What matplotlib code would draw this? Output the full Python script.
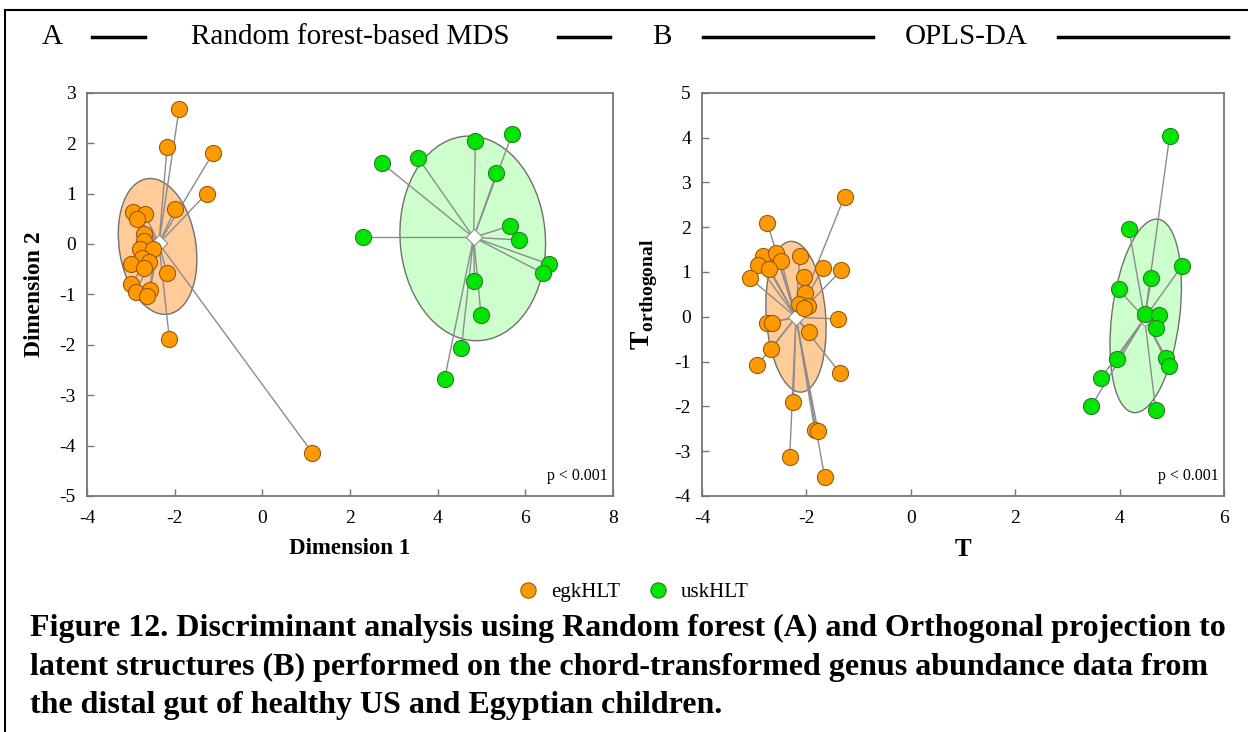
import numpy as np
import matplotlib.pyplot as plt
from matplotlib.patches import Ellipse
from matplotlib.lines import Line2D

plt.rcParams['font.family'] = ['Liberation Serif', 'DejaVu Serif']
plt.rcParams['mathtext.fontset'] = 'custom'
plt.rcParams['mathtext.bf'] = 'Liberation Serif:bold'
plt.rcParams['mathtext.rm'] = 'Liberation Serif'
plt.rcParams['axes.unicode_minus'] = False

# --- Random forest-based MDS scores ---
mds_egk_x = [-1.90, -2.17, -1.12, -1.27, -1.99, -2.94, -2.68, -2.87, -2.69, -2.71, -2.80, -2.50,
             -2.75, -2.58, -3.00, -2.70, -2.18, -2.99, -2.89, -2.56, -2.62, -2.12, 1.14]
mds_egk_y = [2.67, 1.93, 1.81, 1.00, 0.69, 0.64, 0.59, 0.49, 0.20, 0.05, -0.10, -0.10,
             -0.28, -0.35, -0.40, -0.48, -0.57, -0.79, -0.96, -0.91, -1.03, -1.89, -4.14]
mds_usk_x = [5.70, 4.86, 3.55, 2.73, 5.34, 2.29, 5.66, 5.85, 6.53, 6.40, 4.84, 4.99, 4.54, 4.16]
mds_usk_y = [2.18, 2.05, 1.71, 1.60, 1.40, 0.13, 0.36, 0.08, -0.40, -0.58, -0.73, -1.41, -2.07, -2.67]
mds_centroids = {'egkHLT': (-2.36, 0.01), 'uskHLT': (4.82, 0.13)}
# ellipse: centre x, centre y, width, height, angle
mds_ellipses = {'egkHLT': (-2.39, -0.05, 2.73, 1.74, -78),
                'uskHLT': (4.80, 0.11, 4.07, 3.31, -83)}

# --- OPLS-DA scores ---
opls_egk_x = [-1.27, -2.75, -2.83, -2.59, -2.48, -2.93, -2.72, -3.08, -2.13, -1.69, -1.33, -2.05,
              -2.02, -2.15, -1.97, -2.05, -1.39, -2.75, -2.66, -1.95, -2.67, -2.94, -1.36, -2.25,
              -1.84, -1.78, -2.32, -1.65]
opls_egk_y = [2.68, 2.10, 1.35, 1.43, 1.24, 1.16, 1.06, 0.86, 1.35, 1.08, 1.04, 0.89,
              0.54, 0.28, 0.25, 0.20, -0.05, -0.13, -0.13, -0.35, -0.71, -1.08, -1.25, -1.91,
              -2.53, -2.54, -3.14, -3.58]
opls_usk_x = [4.96, 4.18, 5.19, 4.61, 3.98, 4.48, 4.75, 4.70, 3.95, 4.89, 4.94, 3.65, 3.46, 4.69]
opls_usk_y = [4.04, 1.95, 1.13, 0.86, 0.61, 0.06, 0.04, -0.26, -0.95, -0.91, -1.10, -1.36, -1.99, -2.07]
opls_centroids = {'egkHLT': (-2.20, -0.01), 'uskHLT': (4.48, -0.03)}
opls_ellipses = {'egkHLT': (-2.20, 0.00, 3.37, 1.14, -86.6),
                 'uskHLT': (4.50, 0.02, 4.34, 1.30, 84)}

groups = ['egkHLT', 'uskHLT']
face = {'egkHLT': '#ff9900', 'uskHLT': '#00e600'}
edge = {'egkHLT': '#9a5a10', 'uskHLT': '#2f7a2f'}
fill = {'egkHLT': '#ffcc99', 'uskHLT': '#ccffcc'}


def draw_panel(ax, xs, ys, centroids, ellipses):
    for g in groups:
        cx, cy, w, h, ang = ellipses[g]
        ax.add_patch(Ellipse((cx, cy), w, h, angle=ang, facecolor=fill[g],
                             edgecolor='#707070', lw=1, zorder=1))
    for g in groups:
        mx, my = centroids[g]
        for x, y in zip(xs[g], ys[g]):
            ax.plot([mx, x], [my, y], color='#8c8c8c', lw=1, zorder=2)
        ax.scatter([mx], [my], marker='D', s=70, facecolor='white',
                   edgecolor='#909090', lw=0.8, zorder=3)
        ax.scatter(xs[g], ys[g], s=135, facecolor=face[g], edgecolor=edge[g],
                   lw=0.8, zorder=4)
    for s in ax.spines.values():
        s.set_color('#777777')
        s.set_linewidth(1.3)
    ax.tick_params(direction='in', length=5, width=1, color='#777777',
                   labelsize=14, pad=8, top=False, right=False)
    ax.tick_params(axis='x', pad=10)
    ax.text(0.99, 0.03, 'p < 0.001', transform=ax.transAxes, ha='right',
            va='bottom', fontsize=11.5)


W, H = 1248, 732
fig = plt.figure(figsize=(W / 100, H / 100), dpi=100)

axA = fig.add_axes([87 / W, 1 - 496 / H, (613 - 87) / W, (496 - 92.7) / H])
draw_panel(axA, {'egkHLT': mds_egk_x, 'uskHLT': mds_usk_x},
           {'egkHLT': mds_egk_y, 'uskHLT': mds_usk_y}, mds_centroids, mds_ellipses)
axA.set_xlim(-4, 8)
axA.set_ylim(-5, 3)
axA.set_xticks(np.arange(-4, 9, 2))
axA.set_yticks(np.arange(-5, 4, 1))
axA.set_xlabel('Dimension 1', fontsize=16.5, fontweight='bold', labelpad=8)
axA.set_ylabel('Dimension 2', fontsize=17, fontweight='bold', labelpad=10)

axB = fig.add_axes([702 / W, 1 - 496 / H, (1224 - 702) / W, (496 - 92.7) / H])
draw_panel(axB, {'egkHLT': opls_egk_x, 'uskHLT': opls_usk_x},
           {'egkHLT': opls_egk_y, 'uskHLT': opls_usk_y}, opls_centroids, opls_ellipses)
axB.set_xlim(-4, 6)
axB.set_ylim(-4, 5)
axB.set_xticks(np.arange(-4, 7, 2))
axB.set_yticks(np.arange(-4, 6, 1))
axB.set_xlabel('T', fontsize=18, fontweight='bold', labelpad=8)
axB.set_ylabel(r'$\mathbf{T}_{\mathbf{orthogonal}}$', fontsize=20, labelpad=10)

# header row with panel letters and titles
def hline(x0, x1, y=37):
    fig.add_artist(Line2D([x0 / W, x1 / W], [1 - y / H, 1 - y / H], color='black', lw=2.5))

hline(92, 145)
hline(558, 610)
hline(703, 873)
hline(1058, 1228)
for x, s in [(52, 'A'), (350, 'Random forest-based MDS'), (662, 'B'), (966, 'OPLS-DA')]:
    fig.text(x / W, 1 - 37 / H, s, ha='center', va='center', fontsize=21)

# outer frame (left and top edges)
fig.add_artist(Line2D([5 / W, 5 / W], [0, 1 - 10 / H], color='black', lw=1.5))
fig.add_artist(Line2D([5 / W, 1], [1 - 10 / H, 1 - 10 / H], color='black', lw=1.5))

# legend
handles = [Line2D([], [], marker='o', ls='', markersize=11, markerfacecolor=face[g],
                  markeredgecolor=edge[g], markeredgewidth=0.8, label=g) for g in groups]
fig.legend(handles=handles, loc='center', bbox_to_anchor=(628 / W, 1 - 592 / H), ncol=2,
           frameon=False, fontsize=15, handletextpad=0.1, columnspacing=0.8)

caption = ['Figure 12. Discriminant analysis using Random forest (A) and Orthogonal projection to',
           'latent structures (B) performed on the chord-transformed genus abundance data from',
           'the distal gut of healthy US and Egyptian children.']
for i, line in enumerate(caption):
    fig.text(30 / W, 1 - (628 + 39 * i) / H, line, ha='left', va='center',
             fontsize=23, fontweight='bold')

fig.savefig('out.png', dpi=100)
